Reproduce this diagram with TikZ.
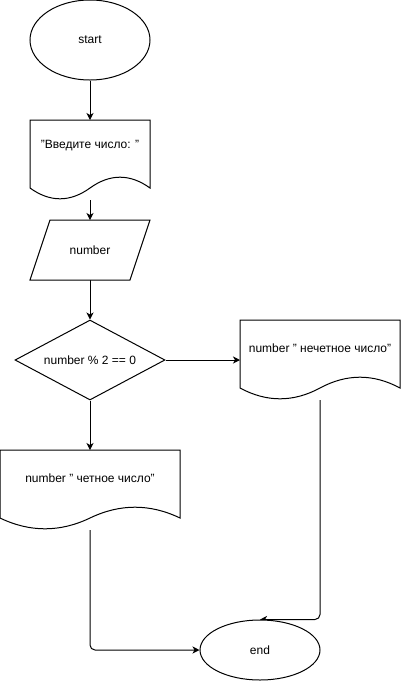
\documentclass[tikz,border=0pt]{standalone}
\usepackage{fontspec}
\setmainfont{Liberation Sans}
\usetikzlibrary{shapes.geometric,arrows.meta,calc}
\pgfdeclarelayer{background}
\pgfsetlayers{background,main}
\newcommand{\docoutline}[3]{%
  \draw[shapeline] (#1,#2) -- ({#1+#3},#2) -- ({#1+#3},{#2+68})
    .. controls ({#1+5*#3/6},{#2+53.6}) and ({#1+2*#3/3},{#2+53.6}) .. ({#1+#3/2},{#2+68})
    .. controls ({#1+#3/3},{#2+82.4}) and ({#1+#3/6},{#2+82.4}) .. (#1,{#2+68}) -- cycle;}
\tikzset{
  shapeline/.style={draw=black, fill=white, line width=1pt},
  term/.style={ellipse, shapeline, inner sep=0pt},
  decis/.style={diamond, shapeline, inner sep=0pt, aspect=1.875, minimum width=150pt, minimum height=80pt},
  ghost/.style={rectangle, draw=none, inner sep=0pt, outer sep=0pt},
  txt/.style={inner sep=0pt},
  flow/.style={draw=black, line width=1pt, -{Stealth[length=7pt,width=7pt,inset=2pt]}},
  every node/.style={font=\fontsize{12pt}{14pt}\selectfont, text=black},
}
\begin{document}
\begin{tikzpicture}[x=1pt,y=-1pt]
\useasboundingbox (0,0) rectangle (401,681);
% start
\node[term, minimum width=120pt, minimum height=80pt] (start) at (90,40) {start};
% document 1
\node[ghost, minimum width=120pt, minimum height=80pt] (d1) at (90,160) {};
\docoutline{30}{120}{120}
\node[txt] (d1t) at (90,146) {"Введите число: "};
% input parallelogram
\node[ghost, minimum width=120pt, minimum height=60pt] (inp) at (90,250) {};
\draw[shapeline] (50,220) -- (150,220) -- (130,280) -- (30,280) -- cycle;
\node[txt] (inpt) at (90,250) {number};
% decision
\node[decis] (dec) at (90,360) {number \% 2 == 0};
% document 2
\node[ghost, minimum width=160pt, minimum height=80pt] (d2) at (320,360) {};
\docoutline{240}{320}{160}
\node[txt] (d2t) at (320,348) {number " нечетное число"};
% document 3
\node[ghost, minimum width=180pt, minimum height=80pt] (d3) at (90,490) {};
\docoutline{0}{450}{180}
\node[txt] (d3t) at (90,478) {number " четное число"};
% end
\node[term, minimum width=120pt, minimum height=60pt] (end) at (260,650) {end};
% connectors
\begin{pgfonlayer}{background}
\fill[white] (0,0) rectangle (401,681);
\draw[flow] (start.south) -- (d1.north);
\draw[flow] (d1.south) -- (inp.north);
\draw[flow] (inp.south) -- (dec.north);
\draw[flow] (dec.east) -- (d2.west);
\draw[flow] (dec.south) -- (d3.north);
\draw[flow, rounded corners=5pt] (d3.south) -- (d3.south |- end.west) -- (end.west);
\draw[flow, rounded corners=5pt] (d2.south) -- (d2.south |- end.north) -- (end.north);
\end{pgfonlayer}
\end{tikzpicture}
\end{document}
